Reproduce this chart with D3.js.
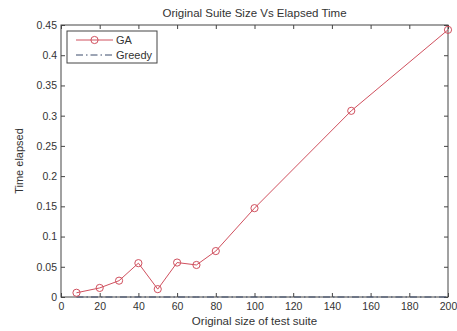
<!DOCTYPE html>
<html><head><meta charset="utf-8">
<script src="https://cdn.jsdelivr.net/npm/d3@7"></script>
<style>body{margin:0;background:#fff}text{font-family:"Liberation Sans",Arial,sans-serif;fill:#333}</style>
</head><body><svg id="c" width="457" height="331"></svg>
<script>
const sizes = [8, 20, 30, 40, 50, 60, 70, 80, 100, 150, 200];
const gaTime = [0.007, 0.015, 0.027, 0.056, 0.013, 0.057, 0.053, 0.076, 0.147, 0.308, 0.442];
const greedyTime = [0, 0, 0, 0, 0, 0, 0, 0, 0, 0, 0];
const xTicks = [0,20,40,60,80,100,120,140,160,180,200];
const yTicks = [0,0.05,0.1,0.15,0.2,0.25,0.3,0.35,0.4,0.45];
const seriesNames = ["GA","Greedy"];

const svg = d3.select("#c");
const L=61,R=448,T=25,B=297;
const x = d3.scaleLinear().domain([0,200]).range([L,R]);
const y = d3.scaleLinear().domain([0,0.45]).range([B,T]);
const axCol="#444";

svg.append("rect").attr("x",L).attr("y",T).attr("width",R-L).attr("height",B-T).attr("fill","#fff").attr("stroke",axCol).attr("stroke-width",1);

const gx = svg.append("g").attr("transform",`translate(0,${B})`)
  .call(d3.axisBottom(x).tickValues(xTicks).tickSize(-4).tickPadding(6).tickFormat(d3.format("d")));
const gxt = svg.append("g").attr("transform",`translate(0,${T})`)
  .call(d3.axisTop(x).tickValues(xTicks).tickSize(-4).tickFormat(""));
const gy = svg.append("g").attr("transform",`translate(${L},0)`)
  .call(d3.axisLeft(y).tickValues(yTicks).tickSize(-4).tickPadding(4).tickFormat(d=>d3.format("")(+d.toFixed(2))));
const gyr = svg.append("g").attr("transform",`translate(${R},0)`)
  .call(d3.axisRight(y).tickValues(yTicks).tickSize(-4).tickFormat(""));
[gx,gxt,gy,gyr].forEach(g=>{g.select(".domain").remove();g.selectAll("line").attr("stroke",axCol);g.selectAll("text").attr("font-size",10.5).attr("fill","#333").style("font-family","Liberation Sans, Arial, sans-serif");});

const gaCol="#d0505e", grCol="#3a4a6a";
const line = d3.line().x((d,i)=>x(sizes[i])).y(d=>y(d));
svg.append("path").datum(greedyTime).attr("d",line).attr("fill","none").attr("stroke",grCol).attr("stroke-width",1).attr("stroke-dasharray","7,3,1.5,3");
svg.append("path").datum(gaTime).attr("d",line).attr("fill","none").attr("stroke",gaCol).attr("stroke-width",1);
svg.selectAll("circle.m").data(gaTime).join("circle").attr("class","m")
  .attr("cx",(d,i)=>x(sizes[i])).attr("cy",d=>y(d)).attr("r",3.6).attr("fill","none").attr("stroke",gaCol).attr("stroke-width",1);

// legend
const lg = svg.append("g");
lg.append("rect").attr("x",67).attr("y",31).attr("width",90).attr("height",32).attr("fill","#fff").attr("stroke",axCol);
lg.append("line").attr("x1",76).attr("x2",113).attr("y1",40).attr("y2",40).attr("stroke",gaCol);
lg.append("circle").attr("cx",94.5).attr("cy",40).attr("r",3.6).attr("fill","none").attr("stroke",gaCol);
lg.append("line").attr("x1",76).attr("x2",113).attr("y1",55).attr("y2",55).attr("stroke",grCol).attr("stroke-dasharray","7,3,1.5,3");
lg.append("text").attr("x",116).attr("y",44).attr("font-size",11).text(seriesNames[0]);
lg.append("text").attr("x",116).attr("y",59).attr("font-size",11).text(seriesNames[1]);

svg.append("text").attr("x",(L+R)/2).attr("y",17).attr("text-anchor","middle").attr("font-size",11.5).text("Original Suite Size Vs Elapsed Time");
svg.append("text").attr("x",(L+R)/2).attr("y",325).attr("text-anchor","middle").attr("font-size",11.5).text("Original size of test suite");
svg.append("text").attr("transform",`translate(23,${(T+B)/2}) rotate(-90)`).attr("text-anchor","middle").attr("font-size",11).text("Time elapsed");
</script></body></html>
